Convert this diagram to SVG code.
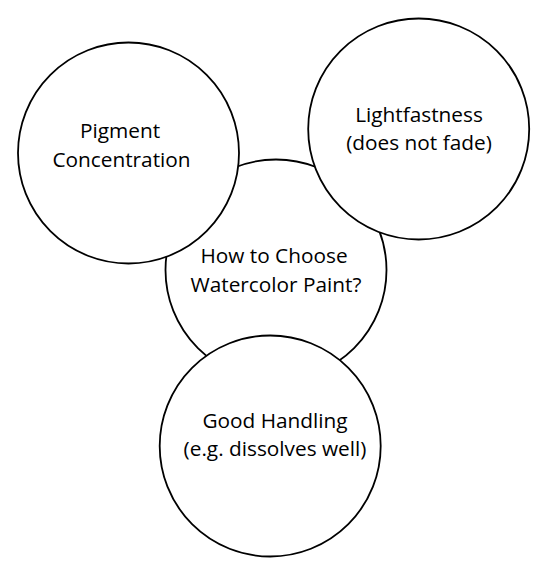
<svg xmlns="http://www.w3.org/2000/svg" width="544" height="577" viewBox="0 0 544 577">
<style>
.c{fill:#fff;stroke:#000;stroke-width:1.8}
.t{font-family:"Open Sans","Liberation Sans",sans-serif;font-size:20.8px;fill:#000;text-anchor:middle}
</style>
<rect width="544" height="577" fill="#fff"/>
<g id="connectors"></g>
<g id="center">
<circle class="c" cx="276" cy="270" r="110.5"/>
<text class="t" x="274" y="263">How to Choose</text>
<text class="t" x="276" y="292">Watercolor Paint?</text>
</g>
<g id="pigment">
<circle class="c" cx="128.5" cy="153" r="110.5"/>
<text class="t" x="120" y="138">Pigment</text>
<text class="t" x="121.5" y="167">Concentration</text>
</g>
<g id="lightfastness">
<circle class="c" cx="418.7" cy="129" r="110.5"/>
<text class="t" x="419" y="122">Lightfastness</text>
<text class="t" x="419" y="150">(does not fade)</text>
</g>
<g id="handling">
<circle class="c" cx="270.2" cy="446" r="110.5"/>
<text class="t" x="275" y="428">Good Handling</text>
<text class="t" x="275" y="456">(e.g. dissolves well)</text>
</g>
</svg>
